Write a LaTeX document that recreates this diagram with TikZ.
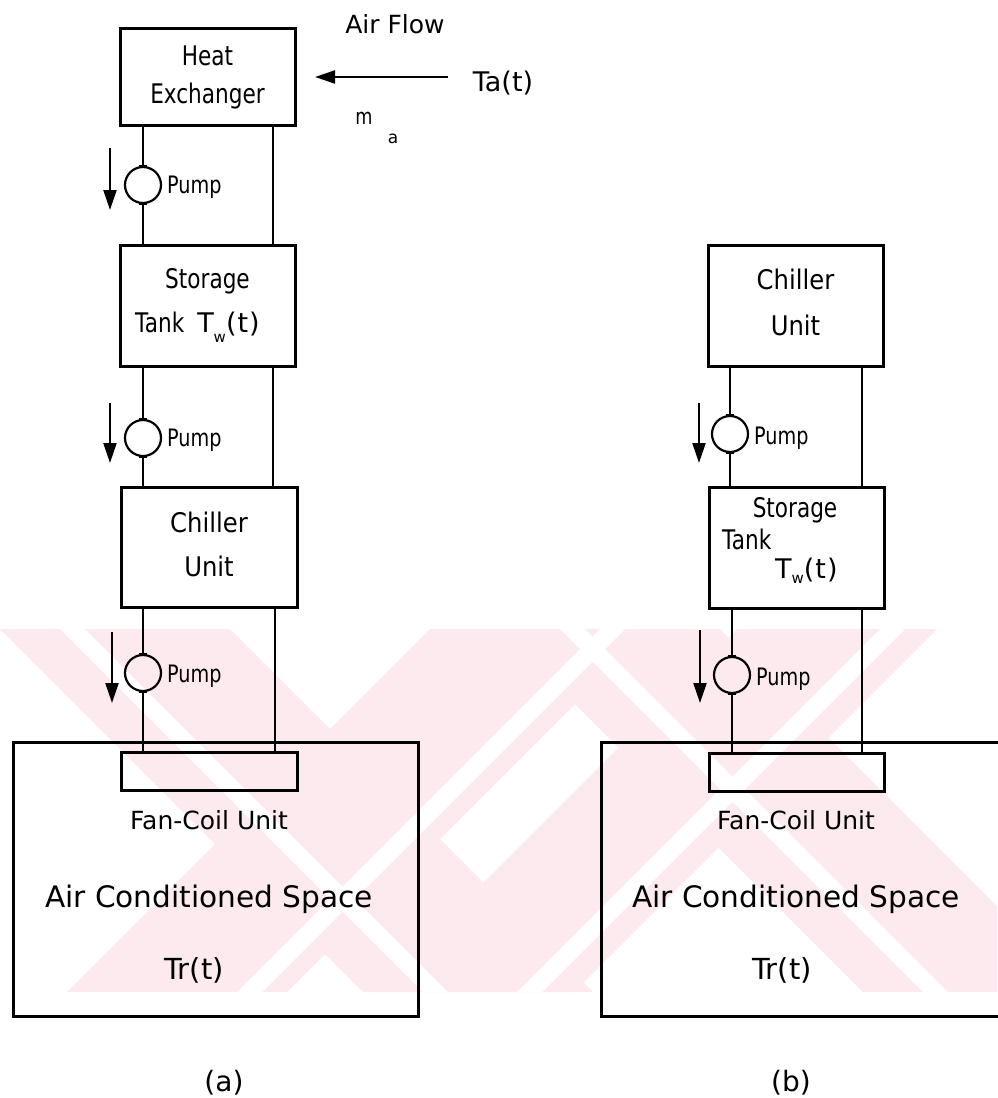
\documentclass[tikz,border=0pt]{standalone}
\usepackage{fontspec}
\setmainfont{DejaVu Sans}
\newfontfamily\condA[FakeStretch=0.8]{DejaVu Sans}
\newfontfamily\condB[FakeStretch=0.9]{DejaVu Sans}
\newfontfamily\condP[FakeStretch=0.8]{DejaVu Sans}
\usetikzlibrary{arrows.meta,calc}
\definecolor{wm}{RGB}{253,234,238}
\newcommand\myfs[1]{\fontsize{#1}{#1}\selectfont}
\begin{document}
\begin{tikzpicture}[x=1pt,y=-1pt,
  box/.style={draw, line width=3pt, inner sep=0pt},
  pipe/.style={line width=2.6pt},
  pumpc/.style={circle, draw, line width=2.2pt, minimum size=36pt, inner sep=0pt},
  flow/.style={line width=2.2pt, -{Triangle[length=20pt,width=13pt]}},
  lbl/.style={inner sep=0pt, anchor=base},
  lblw/.style={inner sep=0pt, anchor=base west}]
\useasboundingbox (0,0) rectangle (997,1098);

% watermark
\begin{scope}
\clip (0,629) rectangle (997,992);
\fill[wm] (0,629) -- (230,629) -- (593,992) -- (363,992) -- cycle;
\fill[wm] (430,629) -- (650,629) -- (287,992) -- (67,992) -- cycle;
\fill[wm] (500,629) -- (720,629) -- (1083,992) -- (863,992) -- cycle;
\fill[wm] (737,629) -- (937,629) -- (574,992) -- (374,992) -- cycle;
\fill[white] (60,629) -- (85,629) -- (448,992) -- (423,992) -- cycle;
\fill[white] (560,629) -- (585,629) -- (948,992) -- (923,992) -- cycle;
\fill[white] (600,629) -- (625,629) -- (262,992) -- (237,992) -- cycle;
\fill[white] (880,629) -- (905,629) -- (542,992) -- (517,992) -- cycle;
\end{scope}

% boxes (a)
\node[box, minimum width=175pt, minimum height=97pt] (hx) at (207.5,76.5) {};
\node[box, minimum width=175pt, minimum height=121pt] (stA) at (207.5,305.5) {};
\node[box, minimum width=176pt, minimum height=120pt] (chA) at (209,547) {};
\node[box, minimum width=405pt, minimum height=274pt] (roomA) at (215.5,879) {};
\node[box, minimum width=176pt, minimum height=38pt] (fcA) at (209,771) {};

% boxes (b)
\node[box, minimum width=175pt, minimum height=121pt] (chB) at (795.5,305.5) {};
\node[box, minimum width=175pt, minimum height=121pt] (stB) at (796.5,547.5) {};
\node[box, minimum width=404pt, minimum height=274pt] (roomB) at (803,879) {};
\node[box, minimum width=175pt, minimum height=38pt] (fcB) at (796.5,772) {};

% pumps
\node[pumpc] (pA1) at (143,185) {};
\node[pumpc] (pA2) at (143,438) {};
\node[pumpc] (pA3) at (143,673) {};
\node[pumpc] (pB1) at (730,434) {};
\node[pumpc] (pB2) at (732,675) {};

% right pipe x positions
\coordinate (rA1) at (273,0);
\coordinate (rA3) at (275,0);
\coordinate (rB) at (862,0);

% pipes (a)
\draw[pipe] (hx.south -| pA1) -- (pA1.north);
\draw[pipe] (pA1.south) -- (pA1 |- stA.north);
\draw[pipe] (hx.south -| rA1) -- (stA.north -| rA1);
\draw[pipe] (stA.south -| pA2) -- (pA2.north);
\draw[pipe] (pA2.south) -- (pA2 |- chA.north);
\draw[pipe] (stA.south -| rA1) -- (chA.north -| rA1);
\draw[pipe] (chA.south -| pA3) -- (pA3.north);
\draw[pipe] (pA3.south) -- (pA3 |- fcA.north);
\draw[pipe] (chA.south -| rA3) -- (fcA.north -| rA3);
% pipes (b)
\draw[pipe] (chB.south -| pB1) -- (pB1.north);
\draw[pipe] (pB1.south) -- (pB1 |- stB.north);
\draw[pipe] (chB.south -| rB) -- (stB.north -| rB);
\draw[pipe] (stB.south -| pB2) -- (pB2.north);
\draw[pipe] (pB2.south) -- (pB2 |- fcB.north);
\draw[pipe] (stB.south -| rB) -- (fcB.north -| rB);

% pump ticks
\foreach \p in {pA1,pA2,pA3,pB1,pB2}{
  \draw[line width=2pt] ([xshift=-4pt]\p.north) -- ([xshift=4pt]\p.north);
  \draw[line width=2pt] ([xshift=-4pt]\p.south) -- ([xshift=4pt]\p.south);
}

% flow arrows
\coordinate (fA1s) at (110,148); \coordinate (fA1e) at (110,210);
\coordinate (fA2s) at (110,403); \coordinate (fA2e) at (110,463);
\coordinate (fA3s) at (112,632); \coordinate (fA3e) at (112,703);
\coordinate (fB1s) at (699,403); \coordinate (fB1e) at (699,463);
\coordinate (fB2s) at (700,630); \coordinate (fB2e) at (700,703);
\draw[flow] (fA1s) -- (fA1e);
\draw[flow] (fA2s) -- (fA2e);
\draw[flow] (fA3s) -- (fA3e);
\draw[flow] (fB1s) -- (fB1e);
\draw[flow] (fB2s) -- (fB2e);

% air flow
\coordinate (afs) at (448,77); \coordinate (afe) at (315,77);
\draw[flow] (afs) -- (afe);
\node[lbl] (aflbl) at (395,33) {\myfs{25}Air Flow};
\node[lbl] (talbl) at (503,91) {\myfs{27}Ta(t)};
\node[lbl] (mlbl) at (364,124) {\condP\myfs{22}m};
\node[lbl] (malbl) at (393,143) {\myfs{17}a};

% labels (a)
\node[lbl] (hxt1) at (207.5,65) {\condA\myfs{27}Heat};
\node[lbl] (hxt2) at (207.5,103) {\condA\myfs{27}Exchanger};
\node[lbl] (stAt1) at (207.5,288) {\condA\myfs{27}Storage};
\node[lblw] (stAt2) at (135,332) {{\condA\myfs{27}Tank}\hspace{13pt}{\myfs{27}T}\raisebox{-10pt}{\myfs{15}w}{\myfs{27}(\kern1pt t\kern1pt)}};
\node[lbl] (chAt1) at (209,532) {\condB\myfs{27}Chiller};
\node[lbl] (chAt2) at (209,576) {\condB\myfs{27}Unit};
\node[lblw] (pAt1) at (167,193) {\condP\myfs{24}Pump};
\node[lblw] (pAt2) at (167,446) {\condP\myfs{24}Pump};
\node[lblw] (pAt3) at (167,682) {\condP\myfs{24}Pump};
\node[lbl] (fcAt) at (209,829) {\myfs{25}Fan-Coil Unit};
\node[lbl] (roomAt) at (209,907) {\myfs{29.6}Air Conditioned Space};
\node[lbl] (trA) at (194,979) {\myfs{29}Tr(t)};
\node[lbl] (capA) at (224,1091) {\myfs{28}(a)};

% labels (b)
\node[lbl] (chBt1) at (795.5,289) {\condB\myfs{27}Chiller};
\node[lbl] (chBt2) at (795.5,335) {\condB\myfs{27}Unit};
\node[lbl] (stBt1) at (795,517) {\condA\myfs{27}Storage};
\node[lblw] (stBt2) at (722,549) {\condA\myfs{27}Tank};
\node[lblw] (stBt3) at (775,578) {{\myfs{27}T}\raisebox{-5pt}{\myfs{15}w}{\myfs{27}(\kern1pt t\kern1pt)}};
\node[lblw] (pBt1) at (754,444) {\condP\myfs{24}Pump};
\node[lblw] (pBt2) at (756,685) {\condP\myfs{24}Pump};
\node[lbl] (fcBt) at (796,829) {\myfs{25}Fan-Coil Unit};
\node[lbl] (roomBt) at (796,907) {\myfs{29.6}Air Conditioned Space};
\node[lbl] (trB) at (782,979) {\myfs{29}Tr(t)};
\node[lbl] (capB) at (791,1091) {\myfs{28}(b)};
\end{tikzpicture}
\end{document}
